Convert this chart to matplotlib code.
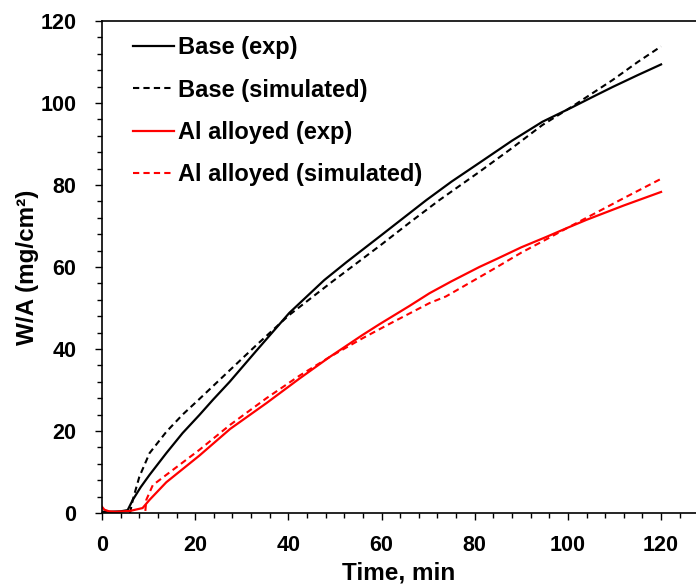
import matplotlib
matplotlib.use('Agg')
import matplotlib.pyplot as plt
from matplotlib.ticker import MultipleLocator

plt.rcParams['font.family'] = ['Liberation Sans', 'DejaVu Sans']
plt.rcParams['font.weight'] = 'bold'

# Base alloy, experiment
base_exp_t = [0, 2, 4, 5.5, 6.6, 8.3, 10.2, 13.8, 17.3, 20.9, 23.8, 27.4, 33,
              40.2, 47.7, 52.5, 60, 69.6, 75, 81, 88, 94.5, 101, 105, 109.6,
              115, 120]
base_exp_w = [0.3, 0.3, 0.4, 0.7, 3.2, 6.3, 9.3, 14.6, 19.5, 23.9, 27.6, 32,
              39.4, 48.8, 56.8, 61.2, 67.8, 76.3, 80.8, 85.4, 90.8, 95.4, 99,
              101.3, 103.9, 106.8, 109.4]

# Base alloy, simulated
base_sim_t = [6, 6.6, 8, 10.2, 13.8, 17.3, 20.9, 27.4, 33, 40.2, 49.5, 60, 66,
              72.4, 81, 88, 94.5, 101, 109.6, 115, 120]
base_sim_w = [0, 3.2, 8.8, 14.6, 19.8, 24, 27.8, 34.8, 40.8, 48.3, 56.5, 65.5,
              70.8, 76.3, 83.2, 89, 94.6, 99.2, 105.6, 110, 113.8]

# Al alloyed, experiment
al_exp_t = [0, 0.5, 1.5, 3, 6, 8.7, 10.2, 13.8, 20.9, 27.5, 35.3, 42.4, 48.8,
            55.9, 59.5, 66, 70.3, 75, 81, 84.8, 90, 95.3, 100, 104, 112, 120]
al_exp_w = [1.5, 0.8, 0.4, 0.3, 0.5, 1.2, 3.2, 7.5, 14, 20.5, 26.8, 32.8, 38,
            43.4, 46, 50.5, 53.6, 56.5, 60, 62, 64.8, 67.3, 69.6, 71.5, 75,
            78.3]

# Al alloyed, simulated
al_sim_t = [9.3, 9.5, 10.9, 13.8, 20.9, 27.5, 35.3, 42.4, 48.8, 55.9, 62,
            70.3, 73.8, 81, 84.8, 90, 95.3, 100, 104, 112, 120]
al_sim_w = [0.5, 3.2, 6.8, 9.3, 15.4, 21.5, 28, 33.5, 38, 42.6, 46.3, 51.2,
            52.8, 57.5, 60, 63.5, 66.7, 69.6, 72, 76.8, 81.5]

fig = plt.figure(figsize=(6.96, 5.86), dpi=100)
ax = fig.add_axes([0.1466, 0.1246, 0.8534, 0.8396])

ax.plot(base_exp_t, base_exp_w, color='black', lw=1.6, label='Base (exp)')
ax.plot(base_sim_t, base_sim_w, color='black', lw=1.5, dashes=(3, 2),
        label='Base (simulated)')
ax.plot(al_exp_t, al_exp_w, color='red', lw=1.6, label='Al alloyed (exp)')
ax.plot(al_sim_t, al_sim_w, color='red', lw=1.5, dashes=(3, 2),
        label='Al alloyed (simulated)')

ax.set_xlim(0, 127.5)
ax.set_ylim(0, 120)
ax.xaxis.set_major_locator(MultipleLocator(20))
ax.xaxis.set_minor_locator(MultipleLocator(4))
ax.yaxis.set_major_locator(MultipleLocator(20))
ax.yaxis.set_minor_locator(MultipleLocator(4))
ax.tick_params(which='major', direction='out', length=5, width=1,
               labelsize=15.5)
ax.tick_params(axis='x', which='major', pad=10.5)
ax.tick_params(axis='y', which='major', pad=13.5)
ax.tick_params(which='minor', direction='out', length=3.5, width=1)
ax.spines['right'].set_visible(False)
for s in ['left', 'bottom', 'top']:
    ax.spines[s].set_linewidth(1.2)

ax.set_xlabel('Time, min', fontsize=17.5, fontweight='bold', labelpad=4)
ax.set_ylabel('W/A (mg/cm²)', fontsize=17.5, fontweight='bold', labelpad=1)

ax.legend(loc='upper left', bbox_to_anchor=(0.017, 1.012), frameon=False,
          fontsize=17, handlelength=1.7, handletextpad=0.2,
          labelspacing=0.82)

fig.savefig('out.png', dpi=100)
